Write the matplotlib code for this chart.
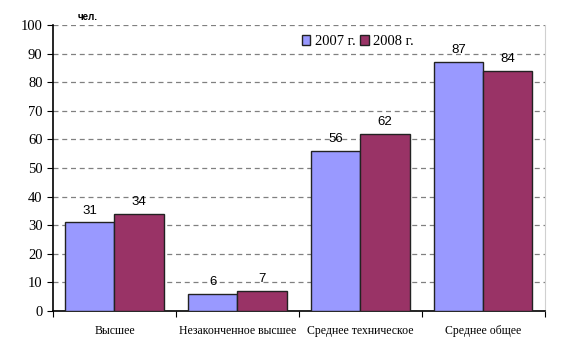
import matplotlib.pyplot as plt
import numpy as np

categories = ['Высшее', 'Незаконченное высшее', 'Среднее техническое', 'Среднее общее']
v2007 = [31, 6, 56, 87]
v2008 = [34, 7, 62, 84]
labels = ['2007 г.', '2008 г.']

fig = plt.figure(figsize=(5.82, 3.57), dpi=100)
ax = fig.add_axes([0.091, 0.129, 0.845, 0.801])

x = np.arange(len(categories))
w = 0.4
b1 = ax.bar(x - w/2, v2007, w, color='#9999FF', edgecolor='#222222', linewidth=1, label=labels[0], zorder=3)
b2 = ax.bar(x + w/2, v2008, w, color='#993366', edgecolor='#222222', linewidth=1, label=labels[1], zorder=3)

for bars in (b1, b2):
    for r in bars:
        ax.text(r.get_x() + r.get_width()/2, r.get_height() + 2, str(int(r.get_height())),
                ha='center', va='bottom', fontsize=9.5, family='Liberation Sans')

ax.set_xlim(-0.5, 3.5)
ax.set_ylim(0, 100)
ax.set_yticks(range(0, 101, 10))
ax.yaxis.grid(True, linestyle=(0, (4, 3)), color='#808080', linewidth=0.9, zorder=0)
ax.set_xticks([-0.5, 0.5, 1.5, 2.5, 3.5])
ax.set_xticklabels([])
ax.set_xticks(x, minor=True)
ax.set_xticklabels(categories, minor=True, family='Liberation Serif', fontsize=8.5)
ax.tick_params(axis='x', which='minor', length=0, pad=10)
ax.tick_params(axis='x', which='major', length=4, direction='out')
ax.tick_params(axis='y', length=4, direction='out', labelsize=10.5)
for t in ax.get_yticklabels():
    t.set_family('Liberation Serif')

ax.spines['top'].set_visible(False)
ax.spines['right'].set_color('#d0d0d0')
ax.spines['left'].set_linewidth(1.2)
ax.spines['bottom'].set_linewidth(1.2)

fig.text(0.151, 0.945, 'чел.', fontsize=7, fontweight='bold', family='Liberation Sans', ha='center')

ax.legend(loc='upper left', bbox_to_anchor=(0.485, 1.0), ncol=2, frameon=False,
          prop={'family': 'Liberation Serif', 'size': 10.5}, handlelength=0.6, handleheight=0.6,
          handletextpad=0.3, columnspacing=0.3, borderpad=0.2)

fig.savefig('out.png', dpi=100)
